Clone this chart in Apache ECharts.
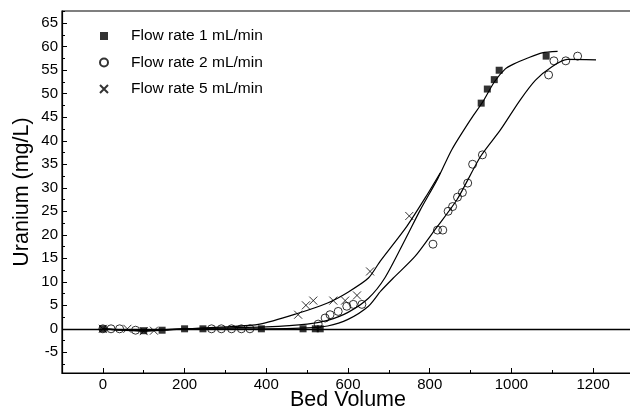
<!DOCTYPE html>
<html>
<head>
<meta charset="utf-8">
<script src="https://cdn.jsdelivr.net/npm/echarts@6/dist/echarts.min.js"></script>
<style>html,body{margin:0;padding:0;background:#fff}#c{width:630px;height:410px}</style>
</head>
<body>
<div id="c"></div>
<script>
// ---- data ----
const xTickLabels = [0, 200, 400, 600, 800, 1000, 1200];
const xMinorTicks = [-100, 100, 300, 500, 700, 900, 1100, 1300];
const yTickLabels = [-5, 0, 5, 10, 15, 20, 25, 30, 35, 40, 45, 50, 55, 60, 65];
const yMinorTicks = [-7.5, -2.5, 2.5, 7.5, 12.5, 17.5, 22.5, 27.5, 32.5, 37.5, 42.5, 47.5, 52.5, 57.5, 62.5, 67.5];

const seriesNames = ['Flow rate 1 mL/min', 'Flow rate 2 mL/min', 'Flow rate 5 mL/min'];

const flow1X = [0, 100, 145, 200, 245, 388, 490, 520, 532, 926, 941, 958, 970, 1085];
const flow1Y = [0, -0.4, -0.3, 0, 0, 0, 0, 0, 0, 48, 51, 53, 55, 58];

const flow2X = [0, 20, 41, 80, 266, 290, 315, 339, 360, 527, 544, 556, 576, 597, 613, 634, 808, 819, 832, 845, 856, 868, 880, 893, 905, 929, 1091, 1104, 1133, 1162];
const flow2Y = [0, 0, 0, -0.3, 0, 0, 0, 0, 0, 1, 2.3, 3, 3.7, 4.8, 5.2, 5.2, 18, 21, 21, 25, 26, 28, 29, 31, 35, 37, 54, 57, 57, 58];

const flow5X = [0, 60, 100, 125, 478, 497, 515, 564, 593, 622, 654, 750];
const flow5Y = [0, 0, -0.5, -0.4, 3, 5, 6, 6, 6, 7.1, 12.2, 24];

const fit1X = [0, 50, 100, 150, 200, 300, 400, 500, 550, 600, 650, 690, 740, 777, 820, 854, 900, 930, 958, 985, 1005, 1040, 1075, 1113];
const fit1Y = [0, -0.3, -0.5, -0.3, 0, 0.2, 0.4, 1.0, 1.8, 3.5, 6.5, 10.8, 19, 25.3, 32, 38.1, 44.5, 48.3, 52.5, 55.3, 56.3, 57.6, 58.7, 59];

const fit2X = [0, 50, 100, 150, 200, 300, 400, 500, 550, 600, 650, 680, 711, 764, 813, 867, 924, 973, 1020, 1059, 1100, 1137, 1207];
const fit2Y = [0, -0.3, -0.4, -0.2, 0, 0, 0, 0.2, 0.6, 2, 4.8, 8, 10.8, 15.4, 21.1, 27.5, 36.6, 42.3, 48.5, 52.9, 55.8, 57.3, 57.2];

const fit5X = [0, 50, 100, 150, 200, 300, 384, 474, 550, 600, 650, 679, 744, 790, 826];
const fit5Y = [0, -0.2, -0.3, -0.2, 0, 0.4, 1, 3.2, 5.5, 7.8, 10.8, 14.4, 21.8, 28, 33.2];

// ---- build ----
const zip = (xs, ys) => xs.map((x, i) => [x, ys[i]]);
const FONT = '"Liberation Sans", Arial, sans-serif';
const crossPath = 'path://M0,0L10,10M10,0L0,10';

const chart = echarts.init(document.getElementById('c'), null, {renderer: 'canvas'});

const baseX = {type: 'value', min: -100, max: 1300, splitLine: {show: false}};
const baseY = {type: 'value', min: -9.4, max: 67.6, splitLine: {show: false}};

const fitLine = (xs, ys) => ({
  type: 'line', data: zip(xs, ys), showSymbol: false, symbol: 'none', smooth: 0.25,
  lineStyle: {color: '#000', width: 1.2}, silent: true, z: 2
});

chart.setOption({
  animation: false,
  backgroundColor: '#fff',
  grid: {left: 62, right: -4, top: 11, bottom: 37, show: true, borderColor: '#000', borderWidth: 1.2,
         containLabel: false, outerBoundsMode: 'none'},
  legend: {
    data: seriesNames, orient: 'vertical', left: 94, top: 23,
    itemWidth: 8, itemHeight: 8, itemGap: 10.5,
    textStyle: {fontFamily: FONT, fontSize: 15.5, color: '#000', lineHeight: 16, padding: [0, 0, 0, 18]},
    selectedMode: false
  },
  xAxis: [
    Object.assign({}, baseX, {
      position: 'bottom',
      name: 'Bed Volume', nameLocation: 'middle', nameGap: 16.5, nameMoveOverlap: false,
      nameTextStyle: {fontFamily: FONT, fontSize: 21.5, color: '#000'},
      axisLine: {show: true, onZero: false, lineStyle: {color: '#000', width: 1.2}},
      axisTick: {show: true, inside: true, length: 5, customValues: xTickLabels, lineStyle: {color: '#000'}},
      axisLabel: {show: true, customValues: xTickLabels, formatter: v => String(v),
                  fontFamily: FONT, fontSize: 15, color: '#000', margin: 4}
    }),
    Object.assign({}, baseX, {
      position: 'bottom',
      axisLine: {show: false, onZero: false},
      axisTick: {show: true, inside: true, length: 3, customValues: xMinorTicks, lineStyle: {color: '#000'}},
      axisLabel: {show: false}
    })
  ],
  yAxis: [
    Object.assign({}, baseY, {
      position: 'left',
      name: 'Uranium (mg/L)', nameLocation: 'middle', nameGap: 28.5, nameMoveOverlap: false,
      nameTextStyle: {fontFamily: FONT, fontSize: 21.5, color: '#000'},
      axisLine: {show: true, onZero: false, lineStyle: {color: '#000', width: 1.2}},
      axisTick: {show: true, inside: true, length: 5, customValues: yTickLabels, lineStyle: {color: '#000'}},
      axisLabel: {show: true, customValues: yTickLabels, formatter: v => String(v),
                  fontFamily: FONT, fontSize: 15, color: '#000', margin: 4}
    }),
    Object.assign({}, baseY, {
      position: 'left',
      axisLine: {show: false, onZero: false},
      axisTick: {show: true, inside: true, length: 3, customValues: yMinorTicks, lineStyle: {color: '#000'}},
      axisLabel: {show: false}
    })
  ],
  series: [
    fitLine(fit1X, fit1Y),
    fitLine(fit2X, fit2Y),
    Object.assign(fitLine(fit5X, fit5Y), {
      markLine: {
        silent: true, symbol: ['none', 'none'], label: {show: false},
        lineStyle: {color: '#000', width: 1.3, type: 'solid'},
        data: [{yAxis: 0}]
      }
    }),
    {
      name: seriesNames[0], type: 'scatter', data: zip(flow1X, flow1Y),
      symbol: 'rect', symbolSize: 7, itemStyle: {color: '#000'}, z: 3
    },
    {
      name: seriesNames[1], type: 'scatter', data: zip(flow2X, flow2Y),
      symbol: 'circle', symbolSize: 8,
      itemStyle: {color: 'rgba(0,0,0,0)', borderColor: '#000', borderWidth: 1}, z: 3
    },
    {
      name: seriesNames[2], type: 'scatter', data: zip(flow5X, flow5Y),
      symbol: crossPath, symbolSize: 8,
      itemStyle: {color: 'rgba(0,0,0,0)', borderColor: '#000', borderWidth: 1}, z: 3
    }
  ]
});
</script>
</body>
</html>
